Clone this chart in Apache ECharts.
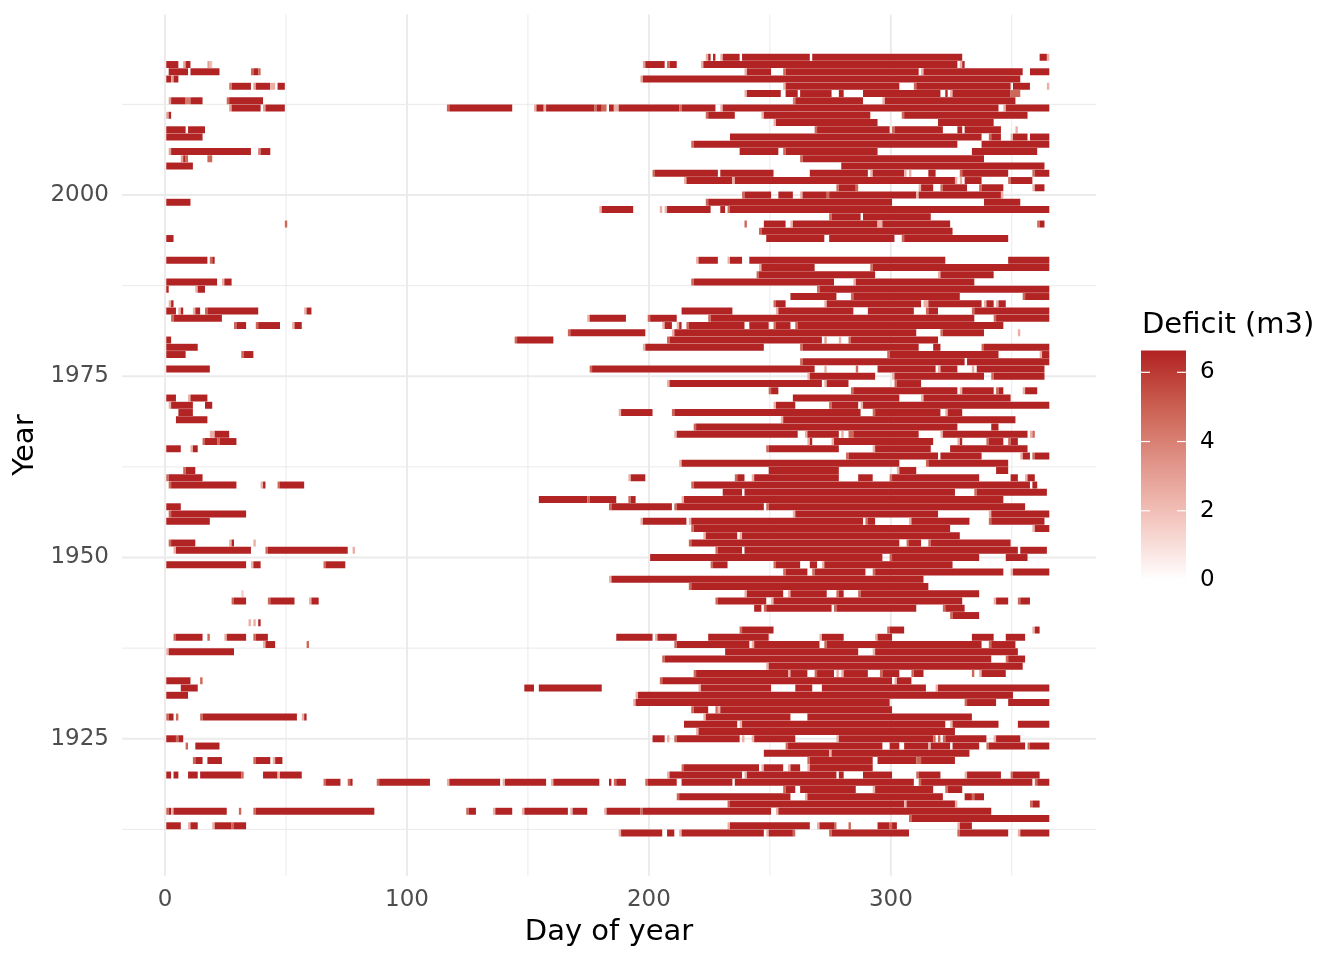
<!DOCTYPE html>
<html>
<head>
<meta charset="utf-8">
<title>Deficit by day of year</title>
<script src="https://cdn.jsdelivr.net/npm/echarts@6/dist/echarts.min.js"></script>
<style>
	html, body { margin: 0; padding: 0; background: #fff; }
	#chart { width: 1344px; height: 960px; }
</style>
</head>
<body>
<div id="chart"></div>
<script>
// one row per year, top to bottom
var years = [
	2019, 2018, 2017, 2016, 2015, 2014, 2013, 2012, 2011, 2010,
	2009, 2008, 2007, 2006, 2005, 2004, 2003, 2002, 2001, 2000,
	1999, 1998, 1997, 1996, 1995, 1994, 1993, 1992, 1991, 1990,
	1989, 1988, 1987, 1986, 1985, 1984, 1983, 1982, 1981, 1980,
	1979, 1978, 1977, 1976, 1975, 1974, 1973, 1972, 1971, 1970,
	1969, 1968, 1967, 1966, 1965, 1964, 1963, 1962, 1961, 1960,
	1959, 1958, 1957, 1956, 1955, 1954, 1953, 1952, 1951, 1950,
	1949, 1948, 1947, 1946, 1945, 1944, 1943, 1942, 1941, 1940,
	1939, 1938, 1937, 1936, 1935, 1934, 1933, 1932, 1931, 1930,
	1929, 1928, 1927, 1926, 1925, 1924, 1923, 1922, 1921, 1920,
	1919, 1918, 1917, 1916, 1915, 1914, 1913, 1912
];

// deficit value of the dark (saturated) days
var fullDeficit = 6.6;

// runs of deficit days per year: [first day, last day] or [first, last, deficit] for paler days
var deficitRuns = [
	/* 2019 */ [[224,224,2.5],[225,225],[227,227],[230,230,2.5],[231,237],[239,266],[268,329],[362,364],[365,365,2.5]],
	/* 2018 */ [[1,5],[8,8,3],[9,10],[18,18,3],[19,19,2],[198,198,3],[199,206],[208,208,4.8],[209,211],[222,222,2.5],[223,327],[329,329,2.5],[330,330]],
	/* 2017 */ [[2,9],[11,22],[36,36,4.8],[37,38],[39,39,4.8],[240,240,2.5],[241,250],[256,256,4.8],[257,311],[313,313,2.5],[314,354],[358,365]],
	/* 2016 */ [[1,2],[3,3,3],[4,5],[197,197,3],[198,353]],
	/* 2015 */ [[27,27,4.2],[28,35],[37,37,3],[38,43],[44,45,2.5],[47,49],[256,256,2.5],[257,303],[310,310,4.8],[311,349],[351,357],[365,365,2.5]],
	/* 2014 */ [[240,240,2.5],[241,254],[257,261],[263,275],[279,280],[289,320],[323,323],[325,325,2.5],[326,349],[350,353,4.8]],
	/* 2013 */ [[2,2,3],[3,8],[9,10,4.2],[11,15],[26,26,4.8],[27,40],[260,260,4.2],[261,288],[297,297,2.5],[298,351]],
	/* 2012 */ [[27,27,3],[28,39],[41,41,3],[42,49],[117,117,4.8],[118,143],[153,153,2.5],[154,156],[157,157,2.5],[158,177],[178,178,4.8],[179,180],[181,182,4.8],[184,185],[186,187,2.5],[188,212],[213,213,4.8],[214,227],[230,230,2.5],[231,344],[347,347,2.5],[348,365]],
	/* 2011 */ [[1,1,3],[2,2],[224,224,4.8],[225,235],[247,247,2.5],[248,291],[305,305,4.8],[306,356]],
	/* 2010 */ [[252,252,2.5],[253,294],[320,342]],
	/* 2009 */ [[1,8],[10,16],[269,269,4.8],[270,299],[301,301,4.8],[302,321],[328,329],[331,345],[352,352,2.5]],
	/* 2008 */ [[1,15],[234,337],[341,341,4.8],[342,345],[350,350,2.5],[351,356],[358,365]],
	/* 2007 */ [[218,218,4.8],[219,327],[338,365]],
	/* 2006 */ [[2,2,3],[3,35],[39,39,4.2],[40,43],[238,253],[256,256,4.8],[257,294],[334,360]],
	/* 2005 */ [[7,7,3],[8,8],[9,9,4.8],[18,19,4.8],[263,263,4.8],[264,338]],
	/* 2004 */ [[1,11],[280,363]],
	/* 2003 */ [[202,202,4.8],[203,228],[230,251],[267,290],[292,292,2.5],[293,305],[306,306,2.5],[308,308,2.5],[316,318],[329,329,4.8],[330,348],[359,359,4.8],[360,365]],
	/* 2002 */ [[215,215,2.5],[216,234],[235,235,2.5],[236,326],[327,327,2.5],[329,329,2.5],[331,337],[349,349,4.8],[350,358]],
	/* 2001 */ [[278,278,4.8],[279,285],[286,286,4.8],[312,312,2.5],[313,317],[321,321,4.8],[322,331],[337,337,4.8],[338,346],[359,359,2.5],[360,363]],
	/* 2000 */ [[239,239,4.8],[240,250],[254,259],[263,263,2.5],[264,273],[274,274,4.8],[275,310],[311,311,2.5],[312,345],[346,346,2.5]],
	/* 1999 */ [[1,10],[224,224,4.8],[225,300],[339,353]],
	/* 1998 */ [[180,180,2.5],[181,193],[205,205,2.5],[207,207,2.5],[208,225],[230,231],[233,233,4.8],[234,365]],
	/* 1997 */ [[275,275,4.8],[276,287],[289,316]],
	/* 1996 */ [[50,50,4.8],[240,240,4.8],[248,256],[259,259,2.5],[260,294],[295,296,2.5],[297,324],[361,361,4.8],[362,363]],
	/* 1995 */ [[246,246,4.8],[247,325]],
	/* 1994 */ [[1,3],[249,272],[275,301],[305,305,4.8],[306,348]],
	/* 1993 */ [],
	/* 1992 */ [],
	/* 1991 */ [[1,17],[19,19,4.8],[20,20],[220,220,2.5],[221,228],[233,233,2.5],[234,238],[242,322],[349,365]],
	/* 1990 */ [[246,246,2.5],[247,268],[292,292,4.8],[293,365]],
	/* 1989 */ [[245,245,4.8],[246,293],[320,320,2.5],[321,342]],
	/* 1988 */ [[1,21],[24,24,2.5],[25,27],[218,218,4.8],[219,276],[285,285,2.5],[286,334]],
	/* 1987 */ [[1,1],[13,13,2.5],[14,16],[270,270,4.8],[271,365]],
	/* 1986 */ [[259,277],[284,284,4.8],[285,328],[355,355,4.8],[356,365]],
	/* 1985 */ [[2,2,2.5],[3,3],[252,252,4.8],[253,256],[273,273,2.5],[274,312],[314,315,2.5],[316,337],[339,339,2.5],[340,342],[344,344,2.5],[345,347]],
	/* 1984 */ [[1,4],[6,6,2.5],[7,7],[12,12,2.5],[13,14],[17,17,4.8],[18,38],[58,58,2.5],[59,60],[214,234],[253,253,2.5],[254,284],[291,309],[315,315,4.8],[316,319],[334,334,4.8],[335,365]],
	/* 1983 */ [[3,3,4.8],[4,23],[175,175,2.5],[176,190],[200,200,4.8],[201,211],[225,225,4.8],[226,334],[343,343,4.8],[344,365]],
	/* 1982 */ [[29,29,4.8],[30,33],[38,38,4.8],[39,47],[53,53,2.5],[54,56],[206,206,2.5],[207,209],[212,212,2.5],[213,213],[216,216,4.8],[217,239],[242,249],[252,252,4.8],[253,258],[261,261,4.8],[262,346]],
	/* 1981 */ [[167,167,4.8],[168,198],[210,210,2.5],[211,310],[321,321,4.8],[322,338],[353,353,2.5]],
	/* 1980 */ [[1,2],[145,145,4.8],[146,160],[208,208,4.8],[209,271],[273,273,3],[279,279,2.5],[283,283,4.8],[284,319]],
	/* 1979 */ [[1,13],[198,198,2.5],[199,247],[263,263,4.8],[264,311],[318,320],[338,338,4.8],[339,365]],
	/* 1978 */ [[1,8],[32,32,4.8],[33,36],[299,299,4.8],[300,344],[362,362,2.5],[363,365]],
	/* 1977 */ [[263,263,4.8],[264,330],[332,365]],
	/* 1976 */ [[1,18],[176,176,4.8],[177,268],[273,273,2.5],[286,286,4.8],[295,318],[320,320,2.5],[321,327],[334,334,2.5],[336,363]],
	/* 1975 */ [[266,266,2.5],[267,293],[301,301,2.5],[302,338],[342,342,4.8],[343,363]],
	/* 1974 */ [[208,208,2.5],[209,271],[273,273,2.5],[274,282],[302,302,4.8],[303,312]],
	/* 1973 */ [[250,250,4.8],[251,253],[284,284,4.8],[285,327],[329,329,2.5],[330,342],[344,344,4.8],[345,346],[355,355,2.5],[356,360]],
	/* 1972 */ [[1,4],[10,10,2.5],[11,17],[260,303],[313,313,2.5],[314,349]],
	/* 1971 */ [[2,2,2.5],[3,11],[17,19],[252,252,2.5],[253,260],[275,275,4.8],[276,286],[288,288,2.5],[289,365]],
	/* 1970 */ [[6,11],[188,188,2.5],[189,201],[210,210,4.8],[211,287],[293,293,4.8],[294,320],[323,323,2.5],[324,329]],
	/* 1969 */ [[5,17],[255,255,2.5],[256,351]],
	/* 1968 */ [[219,219,4.8],[220,327],[342,344]],
	/* 1967 */ [[19,20,2.5],[21,26],[211,211,2.5],[212,261],[265,265,2.5],[266,278],[280,280,2.5],[283,284,4.8],[285,311],[321,321,2.5],[322,356],[358,358,2.5],[359,359,4.8]],
	/* 1966 */ [[16,16,4.8],[17,21],[22,22,4.8],[23,29],[266,266,2.5],[267,267],[276,276,2.5],[277,317],[328,328,2.5],[329,329],[340,340,4.8],[341,346],[349,349,4.8],[350,352]],
	/* 1965 */ [[1,6],[11,11,2.5],[12,13],[249,249,4.8],[250,278],[293,293,2.5],[294,316],[325,356]],
	/* 1964 */ [[282,282,4.8],[283,319],[321,337],[354,354,2.5],[355,357],[359,359,4.8],[360,365]],
	/* 1963 */ [[213,213,2.5],[214,303],[315,315,4.8],[316,348]],
	/* 1962 */ [[8,8,4.8],[9,12],[250,278],[303,303,2.5],[304,310],[344,348]],
	/* 1961 */ [[1,1,4.8],[2,15],[192,192,2.5],[193,198],[236,236,4.8],[237,239],[243,243,2.5],[244,278],[287,292],[300,300,4.8],[301,336],[350,352],[356,356,2.5],[357,359]],
	/* 1960 */ [[2,2,4.8],[3,29],[40,40,2.5],[41,41],[47,47,4.8],[48,57],[218,218,4.8],[219,357],[359,360]],
	/* 1959 */ [[231,238],[240,326],[335,335,4.8],[336,364]],
	/* 1958 */ [[155,174],[175,175,4.8],[176,186],[192,192,4.8],[193,194],[214,214,2.5],[215,346]],
	/* 1957 */ [[1,6],[184,184,4.8],[185,209],[211,211,4.8],[212,247],[249,249,4.8],[250,355]],
	/* 1956 */ [[2,2,4.8],[3,33],[260,260,2.5],[261,319],[341,341,2.5],[342,365]],
	/* 1955 */ [[1,18],[197,197,2.5],[198,215],[217,217,2.5],[218,288],[290,290,4.8],[291,293],[308,308,2.5],[309,332],[341,341,4.8],[342,363]],
	/* 1954 */ [[218,218,4.8],[219,324],[359,359,2.5],[360,365]],
	/* 1953 */ [[223,223,2.5],[224,236],[238,238,2.5],[239,328]],
	/* 1952 */ [[2,2,4.8],[3,12],[27,27,2.5],[28,28],[37,37,2.5],[217,217,4.8],[218,303],[307,307,4.8],[308,312],[316,316,4.8],[317,349]],
	/* 1951 */ [[4,4,2.5],[5,35],[42,42,4.8],[43,75],[78,78,2.5],[228,228,4.8],[229,238],[240,352],[354,364]],
	/* 1950 */ [[201,296],[300,300,4.8],[301,336],[348,356]],
	/* 1949 */ [[1,33],[36,36,2.5],[37,39],[66,66,4.8],[67,74],[226,226,4.8],[227,232],[252,252,4.8],[253,262],[267,269],[272,272,2.5],[273,325]],
	/* 1948 */ [[256,256,4.8],[257,265],[268,268,4.8],[269,289],[293,293,4.8],[294,346],[350,350,2.5],[351,365]],
	/* 1947 */ [[184,184,2.5],[185,313]],
	/* 1946 */ [[217,217,4.8],[218,315]],
	/* 1945 */ [[32,32,1.5],[240,240,2.5],[241,255],[258,258,2.5],[259,273],[278,278,4.8],[279,280],[287,287,4.8],[288,336]],
	/* 1944 */ [[28,28,4.8],[29,33],[43,43,4.8],[44,53],[60,60,2.5],[61,63],[228,228,4.8],[229,248],[251,251,2.5],[252,329],[343,343,2.5],[344,348],[353,353,4.8],[354,357]],
	/* 1943 */ [[244,246],[248,248,4.8],[249,275],[277,277,4.8],[278,310],[322,322,4.8],[323,330]],
	/* 1942 */ [[325,325,4.8],[326,336]],
	/* 1941 */ [[35,35,2.5],[37,37,2.5],[39,39]],
	/* 1940 */ [[238,238,4.8],[239,251],[299,299,4.8],[300,305],[359,359,2.5],[360,361]],
	/* 1939 */ [[4,4,4.8],[5,15],[18,18,4.8],[25,25,2.5],[26,33],[37,37,4.8],[38,42],[187,201],[203,203,2.5],[204,211],[225,249],[271,271,2.5],[272,280],[294,294,2.5],[295,300],[334,342],[348,355]],
	/* 1938 */ [[41,41,2.5],[42,45],[59,59,4.8],[211,211,4.8],[212,241],[243,243,2.5],[244,270],[273,273,4.8],[274,337],[341,341,4.8],[342,351]],
	/* 1937 */ [[1,1,2.5],[2,28],[232,286],[293,293,2.5],[294,352]],
	/* 1936 */ [[206,206,4.8],[207,341],[348,348,4.8],[349,355]],
	/* 1935 */ [[249,249,2.5],[250,354]],
	/* 1934 */ [[219,219,4.8],[220,257],[258,258,2.5],[259,265],[269,269,4.8],[270,276],[278,278,2.5],[280,280,2.5],[281,290],[296,296,4.8],[297,303],[309,309,4.8],[310,313],[334,334,4.8],[337,337,2.5],[338,347]],
	/* 1933 */ [[1,10],[15,15,4.8],[205,205,4.8],[206,300],[302,302,2.5],[303,308]],
	/* 1932 */ [[7,13],[149,152],[155,180],[221,221,2.5],[222,250],[261,267],[272,314],[319,319,2.5],[320,365]],
	/* 1931 */ [[1,9],[195,195,2.5],[196,350]],
	/* 1930 */ [[194,194,2.5],[195,299],[331,331,4.8],[332,343],[349,365]],
	/* 1929 */ [[218,218,4.8],[219,224],[228,228,4.8],[229,229,2.5],[230,300]],
	/* 1928 */ [[1,1,4.8],[2,3],[5,5,4.8],[15,15,4.8],[16,54],[57,57,2.5],[58,58],[223,223,2.5],[224,258],[266,333]],
	/* 1927 */ [[215,236],[238,238,2.5],[239,322],[325,325,2.5],[326,344],[353,365]],
	/* 1926 */ [[220,220,2.5],[221,326]],
	/* 1925 */ [[1,4],[5,5,4.8],[6,7],[202,206],[208,208,2.5],[211,211,4.8],[212,237],[239,239,2.5],[243,243,2.5],[244,260],[278,278,2.5],[279,317],[318,318,4.8],[320,320,4.8],[322,322,4.8],[323,339],[343,343,2.5],[344,353]],
	/* 1924 */ [[9,9,4.8],[13,22],[257,257,4.8],[258,296],[300,303],[306,315],[316,316,2.5],[317,324],[326,336],[340,340,4.8],[341,355],[357,357,4.8],[358,365]],
	/* 1923 */ [[248,274],[275,275,2.5],[276,332]],
	/* 1922 */ [[12,12,4.8],[13,15],[18,23],[37,37,4.8],[38,43],[45,45,2.5],[46,48],[266,266,4.8],[267,292],[295,310],[311,312,4.8],[313,326]],
	/* 1921 */ [[214,214,4.8],[215,245],[247,247,2.5],[248,255],[258,258,2.5],[259,262],[266,266,2.5],[267,292]],
	/* 1920 */ [[1,2],[4,5],[10,13],[15,31],[32,32,4.8],[41,46],[47,47,2.5],[48,56],[208,208,2.5],[209,238],[240,240,2.5],[241,277],[279,280],[289,300],[311,311,4.8],[312,320],[331,331,2.5],[332,345],[350,350,4.8],[351,361]],
	/* 1919 */ [[66,66,4.8],[67,72],[76,76,4.8],[77,77],[88,88,4.8],[89,109],[117,117,2.5],[118,138],[140,140,2.5],[141,157],[160,160,2.5],[161,179],[184,184],[186,186,4.8],[187,190],[199,199,4.8],[200,211],[214,234],[236,309],[312,312,4.8],[313,358],[360,360,4.8],[361,365]],
	/* 1918 */ [[256,256,4.8],[257,260],[263,285],[293,293,2.5],[294,317],[323,323,4.8],[324,329]],
	/* 1917 */ [[212,212,4.8],[213,258],[265,265,2.5],[266,321],[331,333],[334,334,4.8],[335,338]],
	/* 1916 */ [[233,233,4.8],[234,305],[306,306,2.5],[307,326],[327,327,2.5],[358,358,4.8],[359,361]],
	/* 1915 */ [[1,1,4.8],[2,2],[3,3,2.5],[4,25],[31,31,4.8],[37,37,4.8],[38,86],[125,125,4.8],[126,128],[136,136,2.5],[137,143],[148,148,2.5],[149,166],[168,168,2.5],[169,174],[182,182,2.5],[183,196],[197,197,4.8],[198,250],[253,253,2.5],[254,341]],
	/* 1914 */ [[308,308,4.8],[309,365]],
	/* 1913 */ [[1,6],[10,10,2.5],[11,13],[20,20,2.5],[21,27],[28,28,4.8],[29,33],[233,233,2.5],[234,266],[270,270,2.5],[271,276],[277,277,4.8],[283,283,4.8],[295,299],[300,300,4.8],[301,302],[328,328,2.5],[329,333]],
	/* 1912 */ [[188,188,2.5],[189,205],[208,210],[213,213,2.5],[214,247],[249,249,2.5],[250,259],[260,260,4.8],[275,275,4.8],[276,307],[328,328,4.8],[329,348],[353,353,2.5],[354,365]]
];

var xTicks = [0, 100, 200, 300];
var xMinorTicks = [50, 150, 250, 350];
var yTicks = [1925, 1950, 1975, 2000];
var yMinorTicks = [1912.5, 1937.5, 1962.5, 1987.5, 2012.5];
var legendTicks = [0, 2, 4, 6];
var deficitMax = 6.63;
// white -> firebrick
var fillColors = ['#ffffff', '#f4c9c2', '#e2968b', '#cb6152', '#b22222'];

var FONT = 'DejaVu Sans';

// flatten the runs into tiles: [first day, last day, year, deficit]
var tiles = [];
years.forEach(function(year, i){
	deficitRuns[i].forEach(function(r){
		tiles.push([r[0], r[1], year, r.length > 2 ? r[2] : fullDeficit]);
	});
});

// grid lines: [value, vertical?, width]
var gridLines = [];
xMinorTicks.forEach(function(v){ gridLines.push([v, 1, 1]); });
yMinorTicks.forEach(function(v){ gridLines.push([v, 0, 1]); });
xTicks.forEach(function(v){ gridLines.push([v, 1, 2]); });
yTicks.forEach(function(v){ gridLines.push([v, 0, 2]); });

var plainNumber = function(v){
	return String(v);
};

var chart = echarts.init(document.getElementById('chart'), null, {renderer : 'canvas'});

var option = {
	backgroundColor : '#ffffff',
	animation : false,
	title : {
		text : 'Deficit (m3)',
		left : 1137,
		top : 306,
		textStyle : {
			fontFamily : FONT,
			fontSize : 29,
			fontWeight : 'normal',
			color : '#000000'
		}
	},
	grid : [
		{left : 122, top : 14.5, width : 974, height : 861.3, outerBoundsMode : 'none', containLabel : false},
		{left : 1141, top : 350.5, width : 45, height : 229.5, outerBoundsMode : 'none', containLabel : false}
	],
	xAxis : [
		{
			type : 'value',
			gridIndex : 0,
			min : -17.8,
			max : 384.8,
			name : 'Day of year',
			nameLocation : 'middle',
			nameGap : 42,
			nameTextStyle : {fontFamily : FONT, fontSize : 29, color : '#000000'},
			axisLine : {show : false},
			axisTick : {show : false},
			splitLine : {show : false},
			axisLabel : {
				customValues : xTicks,
				formatter : plainNumber,
				margin : 13,
				fontFamily : FONT,
				fontSize : 23,
				color : '#4d4d4d'
			}
		},
		{
			type : 'value',
			gridIndex : 1,
			min : 0,
			max : 1,
			show : false
		}
	],
	yAxis : [
		{
			type : 'value',
			gridIndex : 0,
			min : 1906.1,
			max : 2024.9,
			name : 'Year',
			nameLocation : 'middle',
			nameGap : 72,
			nameTextStyle : {fontFamily : FONT, fontSize : 29, color : '#000000'},
			axisLine : {show : false},
			axisTick : {show : false},
			splitLine : {show : false},
			axisLabel : {
				customValues : yTicks,
				formatter : plainNumber,
				margin : 13,
				padding : [5, 0, 0, 0],
				fontFamily : FONT,
				fontSize : 23,
				color : '#4d4d4d'
			}
		},
		{
			type : 'value',
			gridIndex : 1,
			position : 'right',
			min : 0,
			max : deficitMax,
			axisLine : {show : false},
			axisTick : {show : false},
			splitLine : {show : false},
			axisLabel : {
				customValues : legendTicks,
				formatter : plainNumber,
				margin : 14,
				padding : [5, 0, 0, 0],
				fontFamily : FONT,
				fontSize : 23,
				color : '#000000'
			}
		}
	],
	visualMap : {
		show : false,
		type : 'continuous',
		min : 0,
		max : deficitMax,
		dimension : 3,
		seriesIndex : 1,
		inRange : {color : fillColors}
	},
	series : [
		{
			// panel grid lines
			type : 'custom',
			xAxisIndex : 0,
			yAxisIndex : 0,
			silent : true,
			z : 1,
			encode : {x : 0},
			data : gridLines,
			renderItem : function(params, api){
				var cs = params.coordSys;
				var v = api.value(0);
				var w = api.value(2);
				if(api.value(1) === 1){
					var x = api.coord([v, 2000])[0];
					return {
						type : 'line',
						shape : {x1 : x, y1 : cs.y, x2 : x, y2 : cs.y + cs.height},
						style : {stroke : '#ebebeb', lineWidth : w}
					};
				}
				var y = api.coord([0, v])[1];
				return {
					type : 'line',
					shape : {x1 : cs.x, y1 : y, x2 : cs.x + cs.width, y2 : y},
					style : {stroke : '#ebebeb', lineWidth : w}
				};
			}
		},
		{
			// deficit tiles
			type : 'custom',
			xAxisIndex : 0,
			yAxisIndex : 0,
			silent : true,
			z : 2,
			encode : {x : [0, 1], y : 2},
			data : tiles,
			renderItem : function(params, api){
				var p0 = api.coord([api.value(0) - 0.5, api.value(2) + 0.48]);
				var p1 = api.coord([api.value(1) + 0.5, api.value(2) - 0.48]);
				return {
					type : 'rect',
					shape : {x : p0[0], y : p0[1], width : p1[0] - p0[0], height : p1[1] - p0[1]},
					style : {fill : api.visual('color')}
				};
			}
		},
		{
			// colour bar of the legend
			type : 'custom',
			xAxisIndex : 1,
			yAxisIndex : 1,
			silent : true,
			z : 2,
			data : [[0, 1, 0, deficitMax]],
			renderItem : function(params, api){
				var p0 = api.coord([0, deficitMax]);
				var p1 = api.coord([1, 0]);
				var w = p1[0] - p0[0];
				var stops = fillColors.map(function(c, i){
					return {offset : 1 - i / (fillColors.length - 1), color : c};
				}).reverse();
				var children = [{
					type : 'rect',
					shape : {x : p0[0], y : p0[1], width : w, height : p1[1] - p0[1]},
					style : {fill : new echarts.graphic.LinearGradient(0, 0, 0, 1, stops)}
				}];
				legendTicks.forEach(function(t){
					var y = api.coord([0, t])[1];
					children.push({
						type : 'line',
						shape : {x1 : p0[0], y1 : y, x2 : p0[0] + w / 5, y2 : y},
						style : {stroke : '#ffffff', lineWidth : 1.2}
					});
					children.push({
						type : 'line',
						shape : {x1 : p1[0] - w / 5, y1 : y, x2 : p1[0], y2 : y},
						style : {stroke : '#ffffff', lineWidth : 1.2}
					});
				});
				return {type : 'group', children : children};
			}
		}
	]
};

chart.setOption(option);
</script>
</body>
</html>
